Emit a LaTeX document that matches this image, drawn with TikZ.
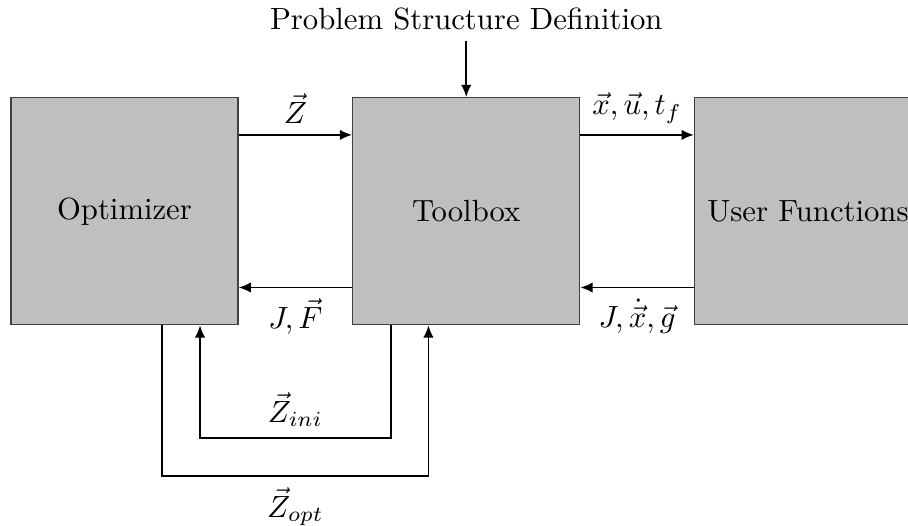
\documentclass[tikz,border=0pt]{standalone}
\usepackage{amsmath}
\usepackage{tikz}
\usetikzlibrary{positioning, arrows.meta}

\begin{document}
\begin{tikzpicture}[semithick, >={Latex[length=4pt, width=3.4pt]},
    block/.style={draw=black!75, thin, fill=lightgray, minimum width=2.6cm, minimum height=2.6cm}]
    \useasboundingbox (0,0) rectangle (10.4,6.02);
    \node[block] (opt) at (1.426,3.601) {Optimizer};
    \node[block, right=1.3cm of opt] (tool) {Toolbox};
    \node[block, right=1.3cm of tool] (user) {User Functions};
    \node[above=0.64cm of tool.north] (psd) {Problem Structure Definition};
    \draw[->] (psd) -- (tool);
    \draw[->] ([yshift=-0.433cm]opt.north east) -- ([yshift=-0.433cm]tool.north west) node[midway, above] {$\vec{Z}$};
    \draw[->] ([yshift=0.433cm]tool.south west) -- ([yshift=0.433cm]opt.south east) node[midway, below] {$J, \vec{F}$};
    \draw[->] ([yshift=-0.433cm]tool.north east) -- ([yshift=-0.433cm]user.north west) node[midway, above] {$\vec{x}, \vec{u}, t_f$};
    \draw[->] ([yshift=0.433cm]user.south west) -- ([yshift=0.433cm]tool.south east) node[midway, below] {$J, \dot{\vec{x}}, \vec{g}$};
    \draw[->] ([xshift=-0.865cm]tool.south) -- ++(0,-1.29) -| ([xshift=0.865cm]opt.south) node[pos=0.25, above] {$\vec{Z}_{ini}$};
    \draw[->] ([xshift=0.433cm]opt.south) -- ++(0,-1.73) -| ([xshift=-0.433cm]tool.south) node[pos=0.25, below] {$\vec{Z}_{opt}$};
\end{tikzpicture}
\end{document}
